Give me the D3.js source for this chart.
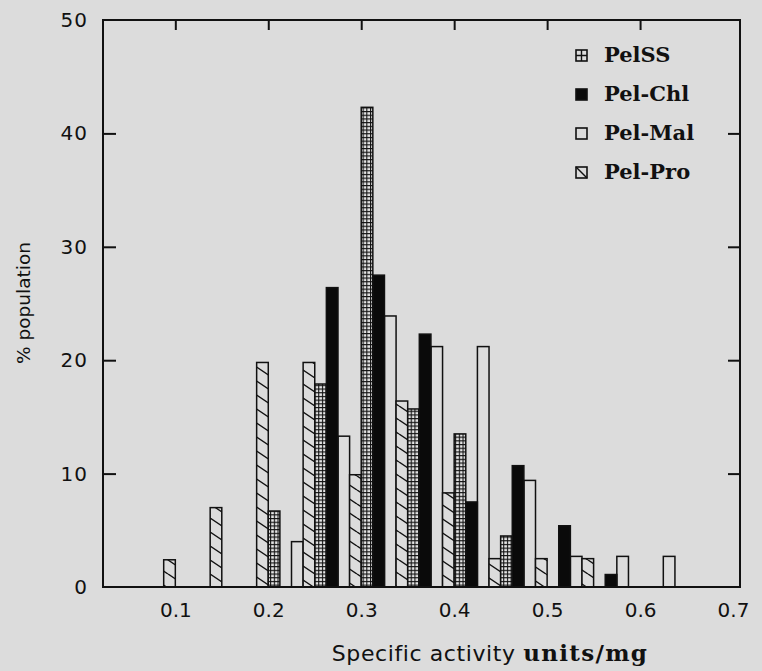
<!DOCTYPE html>
<html>
<head>
<meta charset="utf-8">
<script src="https://cdn.jsdelivr.net/npm/d3@7"></script>
<style>
  html, body { margin: 0; padding: 0; background: #dcdcdc; }
  svg { display: block; }
</style>
</head>
<body>
<div id="chart"></div>
<script>
// bin centres (units/mg) and % population per preparation
const bins   = [0.10, 0.15, 0.20, 0.25, 0.30, 0.35, 0.40, 0.45, 0.50, 0.55, 0.60, 0.65];
const pelMal = [0, 0, 0, 4.0, 13.3, 23.9, 21.2, 21.2, 9.4, 2.7, 2.7, 2.7];
const pelPro = [2.4, 7.0, 19.8, 19.8, 9.9, 16.4, 8.3, 2.5, 2.5, 2.5, 0, 0];
const pelSS  = [0, 0, 6.7, 17.9, 42.3, 15.7, 13.5, 4.5, 0, 0, 0, 0];
const pelChl = [0, 0, 0, 26.4, 27.5, 22.3, 7.5, 10.7, 5.4, 1.1, 0, 0];

const xTicks = [0.1, 0.2, 0.3, 0.4, 0.5, 0.6, 0.7];
const yTicks = [0, 10, 20, 30, 40, 50];
const legendNames = ['PelSS', 'Pel-Chl', 'Pel-Mal', 'Pel-Pro'];

const width = 762, height = 671;
const binWidth = 0.05;

const x = d3.scaleLinear().domain([0.0222, 0.7075]).range([103, 740]);
const y = d3.scaleLinear().domain([0, 50]).range([587, 20]);

const svg = d3.select('#chart').append('svg')
  .attr('width', width)
  .attr('height', height);

svg.append('rect')
  .attr('width', width).attr('height', height)
  .attr('fill', '#dcdcdc');

const defs = svg.append('defs');

// small square grid for PelSS
const grid = defs.append('pattern')
  .attr('id', 'grid')
  .attr('patternUnits', 'userSpaceOnUse')
  .attr('width', 3.7).attr('height', 3.7);
grid.append('rect').attr('width', 3.7).attr('height', 3.7).attr('fill', '#e6e6e6');
grid.append('path')
  .attr('d', 'M0,0.55H3.7M0.55,0V3.7')
  .attr('stroke', '#111').attr('stroke-width', 1.1);

// "\" hatch for Pel-Pro
const hatch = defs.append('pattern')
  .attr('id', 'hatch')
  .attr('patternUnits', 'userSpaceOnUse')
  .attr('width', 21).attr('height', 14);
hatch.append('rect').attr('width', 21).attr('height', 14).attr('fill', '#dcdcdc');
hatch.append('path')
  .attr('d', 'M0,0L21,14M0,-14L21,0M0,14L21,28')
  .attr('stroke', '#111').attr('stroke-width', 1.4);

// order inside each bin: open, hatched, grid, black
const series = [
  { name: 'Pel-Mal', values: pelMal, fill: '#dcdcdc' },
  { name: 'Pel-Pro', values: pelPro, fill: 'url(#hatch)' },
  { name: 'PelSS',   values: pelSS,  fill: 'url(#grid)' },
  { name: 'Pel-Chl', values: pelChl, fill: '#0a0a0a' }
];
const barW = binWidth / series.length;

const bars = [];
series.forEach((s, si) => {
  s.values.forEach((v, i) => {
    if (v > 0) bars.push({ x0: bins[i] - binWidth / 2 + si * barW, v: v, fill: s.fill });
  });
});

svg.append('g').attr('class', 'bars')
  .selectAll('rect')
  .data(bars)
  .join('rect')
  .attr('x', d => x(d.x0))
  .attr('width', d => x(d.x0 + barW) - x(d.x0))
  .attr('y', d => y(d.v))
  .attr('height', d => y(0) - y(d.v))
  .attr('fill', d => d.fill)
  .attr('stroke', '#111')
  .attr('stroke-width', 1.5);

// frame
svg.append('rect')
  .attr('x', x.range()[0]).attr('y', y.range()[1])
  .attr('width', x.range()[1] - x.range()[0])
  .attr('height', y.range()[0] - y.range()[1])
  .attr('fill', 'none')
  .attr('stroke', '#111')
  .attr('stroke-width', 2);

// inward ticks
const inner = [10, 20, 30, 40];
svg.append('g')
  .attr('transform', `translate(${x.range()[0]},0)`)
  .call(d3.axisLeft(y).tickValues(inner).tickSize(-13).tickFormat(''))
  .call(g => g.select('.domain').remove());
svg.append('g')
  .attr('transform', `translate(${x.range()[1]},0)`)
  .call(d3.axisRight(y).tickValues(inner).tickSize(-12).tickFormat(''))
  .call(g => g.select('.domain').remove());
svg.append('g')
  .attr('transform', `translate(0,${y.range()[1]})`)
  .call(d3.axisTop(x).tickValues(xTicks.slice(0, 6)).tickSize(-10).tickFormat(''))
  .call(g => g.select('.domain').remove());
svg.selectAll('.tick line').attr('stroke', '#111').attr('stroke-width', 2);

// labels
svg.append('g')
  .attr('transform', `translate(${x.range()[0]},0)`)
  .call(d3.axisLeft(y).tickValues(yTicks).tickSize(0).tickPadding(15).tickFormat(d3.format('d')))
  .call(g => g.select('.domain').remove())
  .selectAll('text')
  .attr('font-family', 'DejaVu Sans, sans-serif')
  .attr('font-size', 20)
  .attr('letter-spacing', 1)
  .attr('fill', '#111');

svg.append('g')
  .attr('transform', `translate(0,${y.range()[0]})`)
  .call(d3.axisBottom(x).tickValues(xTicks).tickSize(0).tickPadding(16).tickFormat(d3.format('.1f')))
  .call(g => g.select('.domain').remove())
  .selectAll('text')
  .attr('font-family', 'DejaVu Sans, sans-serif')
  .attr('font-size', 20)
  .attr('fill', '#111');

const xTitle = svg.append('text')
  .attr('x', 490).attr('y', 661)
  .attr('text-anchor', 'middle')
  .attr('fill', '#111');
xTitle.append('tspan')
  .attr('font-family', 'DejaVu Sans, sans-serif')
  .attr('font-size', 22)
  .attr('letter-spacing', 0.6)
  .text('Specific activity ');
xTitle.append('tspan')
  .attr('font-family', 'DejaVu Serif, serif')
  .attr('font-size', 23)
  .attr('font-weight', 'bold')
  .attr('letter-spacing', 1.3)
  .text('units/mg');

svg.append('text')
  .attr('transform', 'translate(30,303) rotate(-90)')
  .attr('text-anchor', 'middle')
  .attr('font-family', 'DejaVu Sans, sans-serif')
  .attr('font-size', 18.5)
  .attr('fill', '#111')
  .text('% population');

// legend
const legend = svg.append('g').attr('transform', 'translate(576,56)');
const row = legend.selectAll('g')
  .data(legendNames)
  .join('g')
  .attr('transform', (d, i) => `translate(0,${i * 39})`);

row.append('rect')
  .attr('x', 0).attr('y', -6).attr('width', 11).attr('height', 11)
  .attr('fill', d => d === 'Pel-Chl' ? '#0a0a0a' : '#dcdcdc')
  .attr('stroke', '#111').attr('stroke-width', 1.6);
row.filter(d => d === 'PelSS').append('path')
  .attr('d', 'M0,-0.5H11M5.5,-6V5')
  .attr('stroke', '#111').attr('stroke-width', 1.4);
row.filter(d => d === 'Pel-Pro').append('path')
  .attr('d', 'M0,-6L11,5')
  .attr('stroke', '#111').attr('stroke-width', 1.4);

row.append('text')
  .attr('x', 28).attr('y', 6)
  .attr('font-family', 'DejaVu Serif, serif')
  .attr('font-weight', 'bold')
  .attr('font-size', 21)
  .attr('fill', '#111')
  .text(d => d);
</script>
</body>
</html>
